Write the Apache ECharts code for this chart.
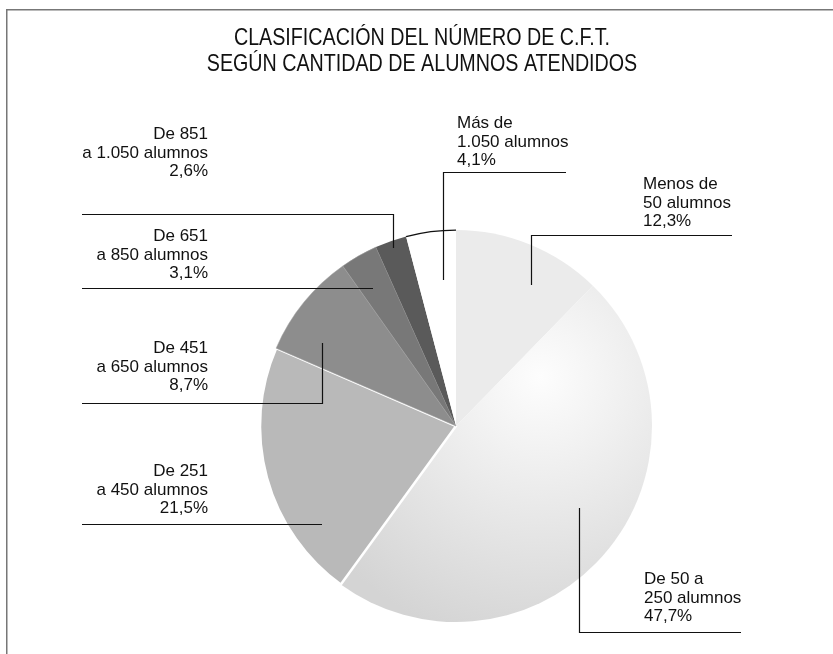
<!DOCTYPE html>
<html>
<head>
<meta charset="utf-8">
<script src="https://cdn.jsdelivr.net/npm/echarts@6/dist/echarts.min.js"></script>
<style>
  html, body { margin: 0; padding: 0; background: #fff; }
  #chart { width: 833px; height: 654px; }
</style>
</head>
<body>
<div id="chart"></div>
<script>
// datos: porcentaje de C.F.T. por tramo de alumnos (sentido horario desde las 12)
var categories = ['Menos de 50 alumnos', 'De 50 a 250 alumnos', 'De 251 a 450 alumnos',
  'De 451 a 650 alumnos', 'De 651 a 850 alumnos', 'De 851 a 1.050 alumnos', 'Más de 1.050 alumnos'];
var labelTexts = ['Menos de\n50 alumnos', 'De 50 a\n250 alumnos', 'De 251\na 450 alumnos',
  'De 451\na 650 alumnos', 'De 651\na 850 alumnos', 'De 851\na 1.050 alumnos', 'Más de\n1.050 alumnos'];
var percents = [12.3, 47.7, 21.5, 8.7, 3.1, 2.6, 4.1];

// colores de cada sector
var sliceColors = [
  '#ebebeb',
  { type: 'radial', x: 540, y: 377, r: 270, global: true,
    colorStops: [{ offset: 0, color: '#fdfdfd' }, { offset: 1, color: '#d4d4d4' }] },
  '#b9b9b9', '#8d8d8d', '#787878', '#5a5a5a', '#ffffff'
];

// posición de cada etiqueta y su línea guía (solo maquetación)
var labelSpots = [
  { x: 643, y: 231, align: 'left', line: [[531.5, 285], [531.5, 235.5], [732, 235.5]] },
  { x: 644, y: 626, align: 'left', line: [[579.5, 508], [579.5, 632.5], [741, 632.5]] },
  { x: 208, y: 518, align: 'right', line: [[322, 524.5], [322, 524.5], [82, 524.5]] },
  { x: 208, y: 395, align: 'right', line: [[322.5, 343], [322.5, 403.5], [82, 403.5]] },
  { x: 208, y: 283, align: 'right', line: [[373, 288.5], [373, 288.5], [82, 288.5]] },
  { x: 208, y: 181, align: 'right', line: [[393.5, 248], [393.5, 214.5], [82, 214.5]] },
  { x: 457, y: 170, align: 'left', line: [[443.5, 280], [443.5, 172.5], [566, 172.5]] }
];

var chart = echarts.init(document.getElementById('chart'));

function fmtPct(v) {
  return v.toFixed(1).replace('.', ',') + '%';
}

var pieCenter = [456, 426];

var option = {
  animation: false,
  backgroundColor: '#fff',
  graphic: [
    // marco (solo arriba e izquierda)
    { type: 'line', shape: { x1: 6, y1: 9.75, x2: 833, y2: 9.75 }, style: { stroke: '#777', lineWidth: 1.5 } },
    { type: 'line', shape: { x1: 6.75, y1: 9, x2: 6.75, y2: 654 }, style: { stroke: '#777', lineWidth: 1.5 } },
    {
      type: 'text', x: 422, y: 25, scaleX: 0.82,
      style: {
        text: 'CLASIFICACIÓN DEL NÚMERO DE C.F.T.\nSEGÚN CANTIDAD DE ALUMNOS ATENDIDOS',
        font: '24px "Liberation Sans", Arial, sans-serif',
        fill: '#111', textAlign: 'center', textVerticalAlign: 'top', lineHeight: 26
      }
    }
  ],
  series: [
    {
      // sectores
      type: 'pie',
      center: pieCenter,
      radius: 196,
      startAngle: 90,
      clockwise: true,
      silent: true,
      emphasis: { disabled: true },
      label: { show: false },
      labelLine: { show: false },
      data: percents.map(function (v, i) {
        return {
          value: v,
          name: categories[i],
          itemStyle: {
            color: sliceColors[i],
            borderColor: i === 2 ? '#fff' : '#a0a0a0',
            borderWidth: i === 2 ? 2.5 : (i === 3 || i === 4 ? 0.5 : 0)
          }
        };
      })
    },
    {
      // arco negro sobre el sector blanco
      type: 'pie',
      center: pieCenter,
      radius: [195.3, 196.6],
      startAngle: 90,
      clockwise: true,
      silent: true,
      z: 3,
      emphasis: { disabled: true },
      label: { show: false },
      labelLine: { show: false },
      data: percents.map(function (v, i) {
        return {
          value: v,
          name: categories[i],
          itemStyle: { color: i === 6 ? '#111' : 'rgba(0,0,0,0)', borderWidth: 0 }
        };
      })
    },
    {
      // etiquetas y líneas guía, por encima de los sectores
      type: 'pie',
      center: pieCenter,
      radius: 196,
      startAngle: 90,
      clockwise: true,
      avoidLabelOverlap: false,
      silent: true,
      z: 4,
      emphasis: { disabled: true },
      itemStyle: { color: 'rgba(0,0,0,0)', borderWidth: 0 },
      label: {
        show: true,
        position: 'outside',
        color: '#111',
        fontSize: 17,
        lineHeight: 18.5,
        fontFamily: '"Liberation Sans", Arial, sans-serif',
        formatter: function (p) {
          return labelTexts[p.dataIndex] + '\n' + fmtPct(p.value);
        }
      },
      labelLine: { show: true, smooth: false, lineStyle: { color: '#111', width: 1.2 } },
      labelLayout: function (p) {
        var s = labelSpots[p.dataIndex];
        return { x: s.x, y: s.y, align: s.align, verticalAlign: 'bottom', labelLinePoints: s.line };
      },
      data: percents.map(function (v, i) {
        return { value: v, name: categories[i] };
      })
    }
  ]
};

chart.setOption(option);
</script>
</body>
</html>
